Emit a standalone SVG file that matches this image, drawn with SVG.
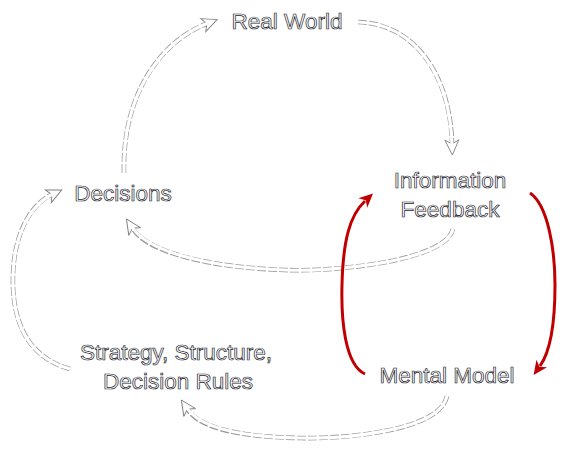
<svg xmlns="http://www.w3.org/2000/svg" width="567" height="449" viewBox="0 0 567 449">
<style>
.t{font-family:"Liberation Sans","Open Sans",sans-serif;font-size:22.5px;fill:#ffffff;stroke:#1a1a2a;stroke-width:0.7;text-anchor:middle}
.o{fill:none;stroke:#9a9a9a;stroke-width:4.6;stroke-dasharray:9 2}
.i{fill:none;stroke:#ffffff;stroke-width:3.2}
.r{fill:none;stroke:#c00000;stroke-width:3}
</style>
<defs>
<marker id="h" markerUnits="userSpaceOnUse" markerWidth="30" markerHeight="30" refX="3" refY="0" orient="auto" viewBox="-5 -15 30 30" overflow="visible">
<path d="M0,-7 L15,0 L0,7 L4,0 Z" fill="#ffffff" stroke="#808080" stroke-width="0.9"/>
</marker>
<marker id="rh" markerUnits="userSpaceOnUse" markerWidth="30" markerHeight="30" refX="3" refY="0" orient="auto" viewBox="-5 -15 30 30" overflow="visible">
<path d="M0,-6.5 L14,0 L0,6.5 L4,0 Z" fill="#c00000"/>
</marker>
</defs>
<g id="connectors">
<path class="o" d="M124,173 C122,95 160,42 206,24" marker-end="url(#h)"/>
<path class="i" d="M124,173 C122,95 160,42 208,23"/>
<path class="o" d="M358,22 C415,24 450,75 452,143" marker-end="url(#h)"/>
<path class="i" d="M358,22 C415,24 450,75 452,145"/>
<path class="o" d="M453,229 C445,262 330,272 285,270 C220,268 150,255 133,229" marker-end="url(#h)"/>
<path class="i" d="M453,229 C445,262 330,272 285,270 C220,268 150,255 132,227"/>
<path class="o" d="M447,396 C440,432 340,439 300,438 C240,437 200,428 188,410" marker-end="url(#h)"/>
<path class="i" d="M447,396 C440,432 340,439 300,438 C240,437 200,428 187,408"/>
<path class="o" d="M70,369 C20,355 12,310 13,275 C14,235 30,205 51,195" marker-end="url(#h)"/>
<path class="i" d="M70,369 C20,355 12,310 13,275 C14,235 30,205 53,194"/>
<path class="r" d="M365,374 C345,365 341,320 342,285 C343,240 350,215 365,201" marker-end="url(#rh)"/>
<path class="r" d="M530,193 C548,205 555,250 555,285 C555,325 550,352 540,366" marker-end="url(#rh)"/>
</g>
<g id="real-world"><text class="t" x="287" y="29">Real World</text></g>
<g id="information-feedback"><text class="t" x="450" y="188">Information</text><text class="t" x="450" y="217">Feedback</text></g>
<g id="decisions"><text class="t" x="123" y="201">Decisions</text></g>
<g id="strategy"><text class="t" x="176" y="360">Strategy, Structure,</text><text class="t" x="178" y="389">Decision Rules</text></g>
<g id="mental-model"><text class="t" x="447" y="383">Mental Model</text></g>
</svg>
